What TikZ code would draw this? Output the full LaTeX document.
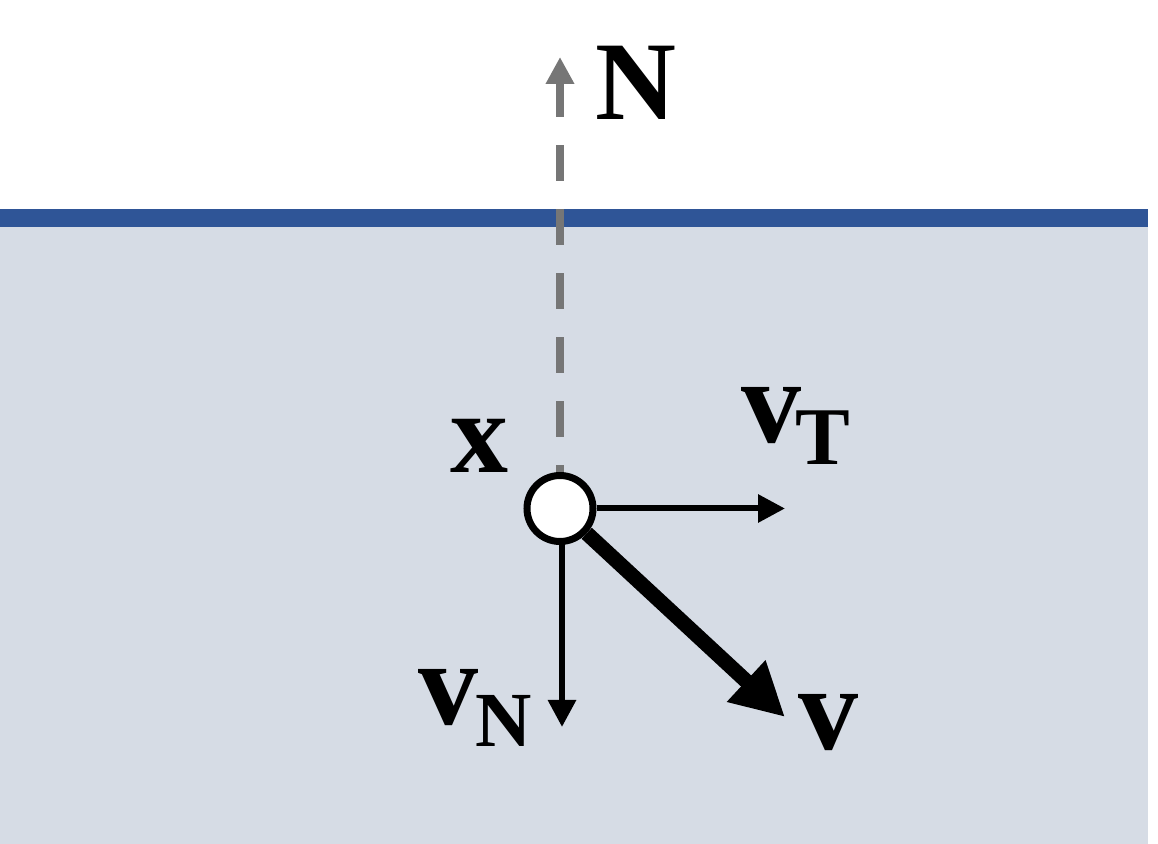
\documentclass[tikz,border=0pt]{standalone}
\usepackage{fontspec}
\newfontfamily\lowbold{Liberation Serif Bold}
\usetikzlibrary{arrows.meta}
\definecolor{bandblue}{HTML}{2F5597}
\definecolor{fillblue}{HTML}{D6DCE5}
\definecolor{dashgray}{HTML}{767676}
\begin{document}
\begin{tikzpicture}[x=0.5pt,y=-0.5pt,
  lbl/.style={inner sep=0pt, anchor=base},
  thinvec/.style={line width=3pt, -{Triangle[length=13.5pt,width=13.5pt]}},
  thickvec/.style={line width=7.5pt, -{Triangle[length=26.5pt,width=26.5pt]}}]
\useasboundingbox (0,0) rectangle (1158,844);
\fill[fillblue] (0,226) rectangle (1148,844);
\fill[bandblue] (0,209) rectangle (1148,227);
\coordinate (Ntip) at (560,57);
\coordinate (Ttip) at (785,508.5);
\coordinate (NNtip) at (562,727);
\coordinate (Vtip) at (785,717);
\node[circle, line width=3.5pt, minimum size=33pt, inner sep=0pt] (c) at (560,508.5) {};
\draw[dashgray, line width=4.35pt, dash pattern=on 18pt off 14pt, dash phase=14.5pt,
  -{Triangle[length=13.5pt,width=13.5pt]}] (c.north) -- (Ntip);
\draw[thinvec] (c) -- (Ttip);
\draw[thinvec] (c.center -| NNtip) -- (NNtip);
\draw[thickvec] (c) -- (Vtip);
\draw[line width=3.5pt, fill=white] (c.center) circle[radius=16.5pt];
\node[lbl, font=\lowbold\fontsize{56}{56}\selectfont] (Nlab) at (636,120) {N};
\node[lbl, font=\lowbold\fontsize{58}{58}\selectfont] (xlab) at (479.5,473) {x};
\node[lbl, font=\lowbold\fontsize{60}{60}\selectfont] (vTv) at (771,443) {v};
\node[lbl, font=\lowbold\fontsize{41}{41}\selectfont] (vTs) at (823,465) {T};
\node[lbl, font=\lowbold\fontsize{60}{60}\selectfont] (vNv) at (448.5,725) {v};
\node[lbl, font=\lowbold\fontsize{39}{39}\selectfont] (vNs) at (504,747) {N};
\node[lbl, font=\lowbold\fontsize{60}{60}\selectfont] (vlab) at (828.5,750) {v};
\end{tikzpicture}
\end{document}
